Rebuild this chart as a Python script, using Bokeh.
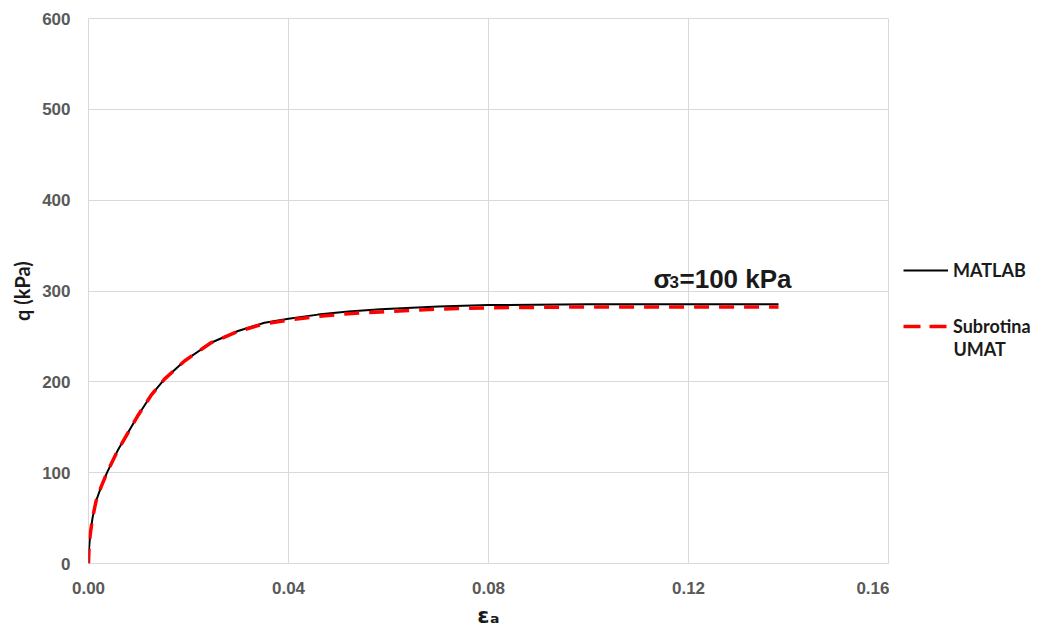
from bokeh.plotting import figure
from bokeh.layouts import row
from bokeh.models import (Range1d, FixedTicker, NumeralTickFormatter, Label,
                          Legend, LegendItem)
from bokeh.embed import file_html
from bokeh.resources import INLINE

# ---- data ----
strain_matlab = [0.0, 0.00008, 0.00034, 0.0008, 0.0015, 0.0025, 0.0037,
                 0.0058, 0.0080, 0.0099, 0.0125, 0.0152, 0.0192, 0.0245,
                 0.0299, 0.0352, 0.0400, 0.0459, 0.0520, 0.0584, 0.0700,
                 0.0800, 0.1000, 0.1200, 0.1380]
q_matlab = [0, 14, 32, 50, 68.5, 84, 100, 124, 145, 163, 185, 203, 223,
            243, 256, 265, 269.5, 274, 277.5, 280, 283, 284.5, 285.5, 285.5,
            285.5]

strain_umat = [0.0, 0.00008, 0.00034, 0.0008, 0.0015, 0.0025, 0.0037,
               0.0058, 0.0080, 0.0099, 0.0125, 0.0152, 0.0192, 0.0245,
               0.0299, 0.0352, 0.0400, 0.0459, 0.0520, 0.0584, 0.0700,
               0.0800, 0.1000, 0.1200, 0.1380]
q_umat = [0, 14, 32, 50, 68.5, 84, 100, 124, 145, 163, 185, 203, 223,
          243, 255.5, 264, 268, 272, 275, 277, 280, 281.5, 282.5, 282.5,
          282.5]

x_ticks = [0.0, 0.04, 0.08, 0.12, 0.16]
y_ticks = [0, 100, 200, 300, 400, 500, 600]

series_names = ["MATLAB", "Subrotina", "UMAT"]   # 2nd series label is two lines
annotation_text = ["σ", "3", "=100 kPa"]
x_label = "εₐ"
y_label = "q (kPa)"

GRID = "#d9d9d9"
TICK = "#595959"
RED = "#ff0000"
TXT = "#1a1a1a"

p = figure(width=889, height=630, output_backend="svg", toolbar_location=None,
           x_range=Range1d(0, 0.16), y_range=Range1d(0, 600),
           min_border_left=88, min_border_right=1, min_border_top=18,
           min_border_bottom=64)
p.background_fill_color = "white"
p.border_fill_color = "white"
p.outline_line_color = GRID

p.xaxis.ticker = FixedTicker(ticks=x_ticks)
p.yaxis.ticker = FixedTicker(ticks=y_ticks)
p.xaxis.formatter = NumeralTickFormatter(format="0.00")
for ax in (p.xaxis, p.yaxis):
    ax.axis_line_color = None
    ax.major_tick_line_color = None
    ax.minor_tick_line_color = None
    ax.major_tick_out = 0
    ax.major_tick_in = 0
    ax.major_label_text_font = "Liberation Sans"
    ax.major_label_text_font_style = "bold"
    ax.major_label_text_font_size = "17px"
    ax.major_label_text_color = TICK
    ax.axis_label_text_color = TXT
    ax.axis_label_text_font_style = "bold"
p.xaxis.major_label_standoff = 18
p.yaxis.major_label_standoff = 18

p.yaxis.axis_label = y_label
p.yaxis.axis_label_text_font = "Lato"
p.yaxis.axis_label_text_font_size = "20px"
p.yaxis.axis_label_standoff = 5

p.xaxis.axis_label = x_label
p.xaxis.axis_label_text_font = "DejaVu Sans"
p.xaxis.axis_label_text_font_size = "22px"
p.xaxis.axis_label_standoff = 6

p.xgrid.grid_line_color = GRID
p.ygrid.grid_line_color = GRID

p.line(strain_matlab, q_matlab, line_color="black", line_width=2)
p.line(strain_umat, q_umat, line_color=RED, line_width=3.5, line_dash="15 10")

# sigma_3 annotation
ann_kw = dict(text_font="Liberation Sans", text_font_style="bold",
              text_baseline="bottom", text_color=TXT)
p.add_layout(Label(x=0.113, y=297, text=annotation_text[0],
                   text_font_size="26px", **ann_kw))
p.add_layout(Label(x=0.113, y=297, x_offset=16, y_offset=6,
                   text=annotation_text[1], text_font_size="17px", **ann_kw))
p.add_layout(Label(x=0.113, y=297, x_offset=26, text=annotation_text[2],
                   text_font_size="26px", **ann_kw))

# ---- legend panel to the right ----
pl = figure(width=161, height=630, output_backend="svg", toolbar_location=None,
            x_range=Range1d(0, 1), y_range=Range1d(0, 1),
            x_axis_location=None, y_axis_location=None,
            min_border=0)
pl.outline_line_color = None
pl.xgrid.visible = False
pl.ygrid.visible = False
pl.background_fill_color = "white"
pl.border_fill_color = "white"
nan = float("nan")
l_mat = pl.line([nan, nan], [nan, nan], line_color="black", line_width=2)
l_umat = pl.line([nan, nan], [nan, nan], line_color=RED, line_width=3.5,
                 line_dash="17 9")

legend = Legend(items=[LegendItem(label=series_names[0], renderers=[l_mat]),
                       LegendItem(label=series_names[1], renderers=[l_umat])],
                location=(14, 226), orientation="vertical",
                glyph_width=45, glyph_height=20, label_height=20,
                label_standoff=5, spacing=34, padding=0, margin=0,
                border_line_color=None, background_fill_alpha=0,
                label_text_font="Lato", label_text_font_style="bold",
                label_text_font_size="18px", label_text_color=TXT)
pl.add_layout(legend, "center")
# second line of the red series' legend label
pl.add_layout(Label(x=0.3975, y=0.394, text=series_names[2],
                    text_font="Lato", text_font_style="bold",
                    text_font_size="18px", text_color=TXT,
                    text_baseline="middle", text_align="left"))

layout = row(p, pl, spacing=0)
open("out.html", "w").write(file_html(layout, INLINE))
